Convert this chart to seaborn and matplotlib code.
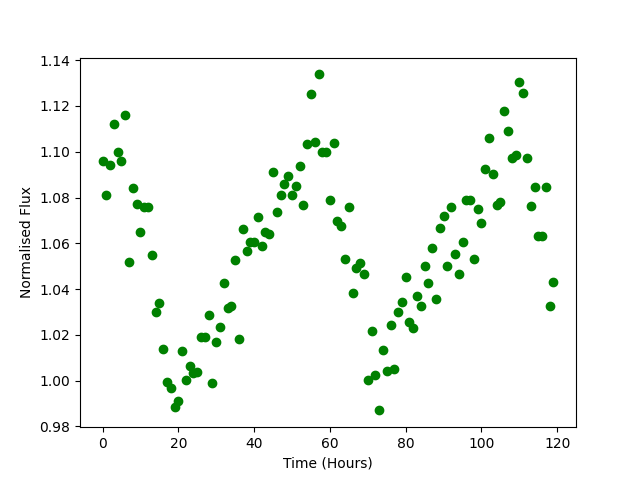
import numpy as np
import pandas as pd
import matplotlib
matplotlib.use("Agg")
import matplotlib.pyplot as plt
import seaborn as sns

# time in hours, one reading per hour
hours = np.arange(0, 120)

# normalised flux
flux = [
    1.096, 1.081, 1.094, 1.112, 1.100, 1.096, 1.116, 1.052, 1.084, 1.077,
    1.065, 1.076, 1.076, 1.055, 1.030, 1.034, 1.014, 0.9996, 0.997, 0.9887,
    0.9913, 1.0128, 1.0005, 1.0066, 1.0034, 1.0039, 1.0189, 1.0189, 1.0288, 0.9988,
    1.0171, 1.0234, 1.0428, 1.0318, 1.0324, 1.0528, 1.018, 1.0661, 1.0565, 1.0606,
    1.0606, 1.0713, 1.0587, 1.0649, 1.064, 1.091, 1.0738, 1.081, 1.0857, 1.0892,
    1.081, 1.0849, 1.0939, 1.0766, 1.1035, 1.1251, 1.1044, 1.1338, 1.0997, 1.0997,
    1.079, 1.1037, 1.0697, 1.0674, 1.0533, 1.0757, 1.0381, 1.0493, 1.0515, 1.0468,
    1.0004, 1.0216, 1.0023, 0.9870, 1.0136, 1.0043, 1.0245, 1.0053, 1.0301, 1.0342,
    1.0454, 1.0258, 1.0228, 1.0368, 1.0327, 1.0503, 1.0428, 1.0579, 1.0355, 1.0665,
    1.0718, 1.0503, 1.0757, 1.0554, 1.0468, 1.0604, 1.079, 1.079, 1.0533, 1.0748,
    1.0687, 1.0923, 1.1062, 1.0904, 1.0766, 1.0779, 1.118, 1.1089, 1.0971, 1.0984,
    1.1303, 1.1255, 1.0971, 1.0761, 1.0844, 1.063, 1.063, 1.0846, 1.0327, 1.0433,
]

df = pd.DataFrame({"Time": hours, "Flux": flux})

fig, ax = plt.subplots(figsize=(6.4, 4.8), dpi=100)
sns.scatterplot(data=df, x="Time", y="Flux", color="green", s=36,
                edgecolor="green", linewidth=1, ax=ax)
ax.set_xlabel("Time (Hours)")
ax.set_ylabel("Normalised Flux")

plt.savefig("out.png")
plt.close()
